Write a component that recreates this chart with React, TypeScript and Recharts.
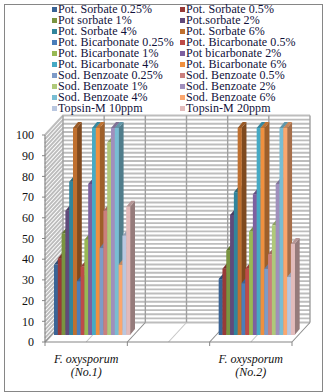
import React from 'react';
import { BarChart, Bar, XAxis, YAxis, CartesianGrid, Legend } from 'recharts';

const categories = ['F. oxysporum (No.1)', '', 'F. oxysporum (No.2)'];
const seriesNames = [
  'Pot. Sorbate 0.25%', 'Pot. Sorbate 0.5%', 'Pot sorbate 1%', 'Pot.sorbate 2%',
  'Pot. Sorbate 4%', 'Pot. Sorbate 6%', 'Pot. Bicarbonate 0.25%', 'Pot. Bicarbonate 0.5%',
  'Pot. Bicarbonate 1%', 'Pot bicarbonate 2%', 'Pot. Bicarbonate 4%', 'Pot. Bicarbonate 6%',
  'Sod. Benzoate 0.25%', 'Sod. Benzoate 0.5%', 'Sod. Benzoate 1%', 'Sod. Benzoate 2%',
  'Sod. Benzoate 4%', 'Sod. Benzoate 6%', 'Topsin-M 10ppm', 'Topsin-M 20ppm',
];
const seriesColors = [
  '#3A6496', '#983A37', '#7A9440', '#604A7B', '#31859C', '#C0702F',
  '#4A7EBB', '#BE4B48', '#98B954', '#7D60A0', '#46AAC5', '#F0903F',
  '#7E9BC8', '#CA7F7D', '#AFC97A', '#A08FBC', '#79BDD3', '#FBA76E',
  '#B9C7E0', '#E2BBBB',
];
const no1Values = [34, 37, 49, 60, 74, 100, 26, 33, 46, 73, 100, 100, 42, 60, 93, 100, 100, 34, 48, 62];
const no2Values = [27, 32, 41, 58, 69, 100, 25, 32, 50, 68, 100, 100, 32, 39, 53, 73, 100, 100, 28, 44];
const yTicks = [0, 10, 20, 30, 40, 50, 60, 70, 80, 90, 100];
const minorGrid = [
  0, 2, 4, 6, 8, 10, 12, 14, 16, 18, 20, 22, 24, 26, 28, 30, 32, 34, 36, 38, 40, 42, 44, 46, 48, 50,
  52, 54, 56, 58, 60, 62, 64, 66, 68, 70, 72, 74, 76, 78, 80, 82, 84, 86, 88, 90, 92, 94, 96, 98, 100,
];

const rows = categories.map((name, c) => {
  const row: Record<string, any> = { name };
  const source = c === 0 ? no1Values : c === 2 ? no2Values : null;
  seriesNames.forEach((s, i) => {
    row[s] = source ? source[i] : null;
  });
  return row;
});

const FONT = '"Liberation Serif", "Times New Roman", serif';
const LEFT = 45;
const RIGHT_EDGE = 292;
const TOP = 135;
const BOTTOM = 342;
const DEPTH_X = 18;
const DEPTH_Y = -19.5;
const BAR_DX = 6;
const BAR_DY = -7;
const SIDE_X = 5;
const SIDE_Y = -6;

function shade(hex: string, f: number) {
  const n = parseInt(hex.slice(1), 16);
  const c = (v: number) => Math.round(v * f);
  return `rgb(${c((n >> 16) & 255)},${c((n >> 8) & 255)},${c(n & 255)})`;
}

const Bar3D = (props: any) => {
  const { x, y, width, height, fill } = props;
  if (x == null || y == null || !height || height <= 0) return null;
  const l = x + BAR_DX;
  const t = y + BAR_DY;
  const r = l + width;
  const b = t + height;
  return (
    <g>
      <polygon
        points={`${r},${t} ${r + SIDE_X},${t + SIDE_Y} ${r + SIDE_X},${b + SIDE_Y} ${r},${b}`}
        fill={shade(fill, 0.66)}
      />
      <polygon
        points={`${l},${t} ${l + SIDE_X},${t + SIDE_Y} ${r + SIDE_X},${t + SIDE_Y} ${r},${t}`}
        fill={shade(fill, 0.8)}
      />
      <rect x={l} y={t} width={width + 0.3} height={height} fill={fill} />
    </g>
  );
};

const wallLine = (p: any) => (
  <polyline
    points={`${p.x1},${p.y1} ${p.x1 + DEPTH_X},${p.y1 + DEPTH_Y} ${p.x2 + DEPTH_X},${p.y2 + DEPTH_Y}`}
    fill="none"
    stroke="#bdbdbd"
    strokeWidth={1.9}
  />
);

const wallVertical = (p: any) => {
  const major = p.index % 2 === 0;
  return (
    <g>
      <line x1={p.x1 + DEPTH_X} y1={TOP + DEPTH_Y} x2={p.x1 + DEPTH_X} y2={BOTTOM + DEPTH_Y} stroke="#a0a0a0" strokeWidth={1.4} />
      <line x1={p.x1} y1={BOTTOM} x2={p.x1 + DEPTH_X} y2={BOTTOM + DEPTH_Y} stroke={major ? '#8c8c8c' : '#c6c6c6'} strokeWidth={1.1} />
      {major ? <line x1={p.x1} y1={BOTTOM} x2={p.x1} y2={BOTTOM + 4} stroke="#868686" strokeWidth={1} /> : null}
    </g>
  );
};

const CategoryTick = (props: any) => {
  const { x, payload } = props;
  const v: string = payload.value || '';
  if (!v) return null;
  const cut = v.indexOf(' (');
  return (
    <text textAnchor="middle" fontFamily={FONT} fontStyle="italic" fontSize={12} fill="#111">
      <tspan x={x} y={363}>{v.slice(0, cut)}</tspan>
      <tspan x={x} y={376}>{v.slice(cut + 1)}</tspan>
    </text>
  );
};

const LegendBox = (props: any) => {
  const items: any[] = props.payload || [];
  return (
    <div style={{ position: 'relative', width: 325, height: 115 }}>
      {items.map((it, i) => {
        const col = i % 2;
        const row = Math.floor(i / 2);
        const mx = col === 0 ? 51.5 : 179.5;
        const top = 4 + row * 10.95;
        return (
          <div key={i}>
            <div style={{ position: 'absolute', left: mx, top: top + 3, width: 5, height: 5, background: it.color }} />
            <div
              style={{
                position: 'absolute',
                left: mx + 6.5,
                top,
                height: 10.5,
                fontFamily: FONT,
                fontSize: 12,
                letterSpacing: 0.08,
                lineHeight: '10.5px',
                color: '#10103a',
                whiteSpace: 'nowrap',
              }}
            >
              {it.value}
            </div>
          </div>
        );
      })}
    </div>
  );
};

export default function App() {
  return (
    <div style={{ position: 'absolute', left: 0, top: 0, width: 325, height: 392, background: '#fff' }}>
      <div
        style={{
          position: 'absolute',
          left: 4,
          top: 4,
          width: 317,
          height: 386,
          border: '1.5px solid #868686',
          boxSizing: 'content-box',
        }}
      />
      <BarChart
        width={325}
        height={392}
        data={rows}
        margin={{ top: TOP, right: 325 - RIGHT_EDGE, bottom: 0, left: 0 }}
        barGap={0}
        barCategoryGap={3}
      >
        <CartesianGrid
          horizontalValues={minorGrid}
          horizontal={wallLine}
          vertical={wallVertical}
          verticalPoints={[0, 1, 2, 3, 4, 5, 6].map((k) => LEFT + (k * (RIGHT_EDGE - LEFT)) / 6)}
        />
        <XAxis
          dataKey="name"
          height={50}
          interval={0}
          tickLine={false}
          axisLine={{ stroke: '#868686', strokeWidth: 1.2 }}
          tick={CategoryTick}
        />
        <YAxis
          width={45}
          domain={[0, 100]}
          ticks={yTicks}
          interval={0}
          tickSize={3}
          tickMargin={8}
          axisLine={{ stroke: '#868686', strokeWidth: 1.2 }}
          tickLine={{ stroke: '#868686' }}
          tick={{ fontFamily: FONT, fontSize: 12, fill: '#111' }}
        />
        <Legend
          verticalAlign="middle"
          align="center"
          itemSorter={null}
          wrapperStyle={{ top: 0, left: 0, width: 325, height: 115 }}
          content={LegendBox}
        />
        {seriesNames.map((s, i) => (
          <Bar key={s} dataKey={s} name={s} fill={seriesColors[i]} barSize={3.8} shape={Bar3D} isAnimationActive={false} />
        ))}
      </BarChart>
    </div>
  );
}
